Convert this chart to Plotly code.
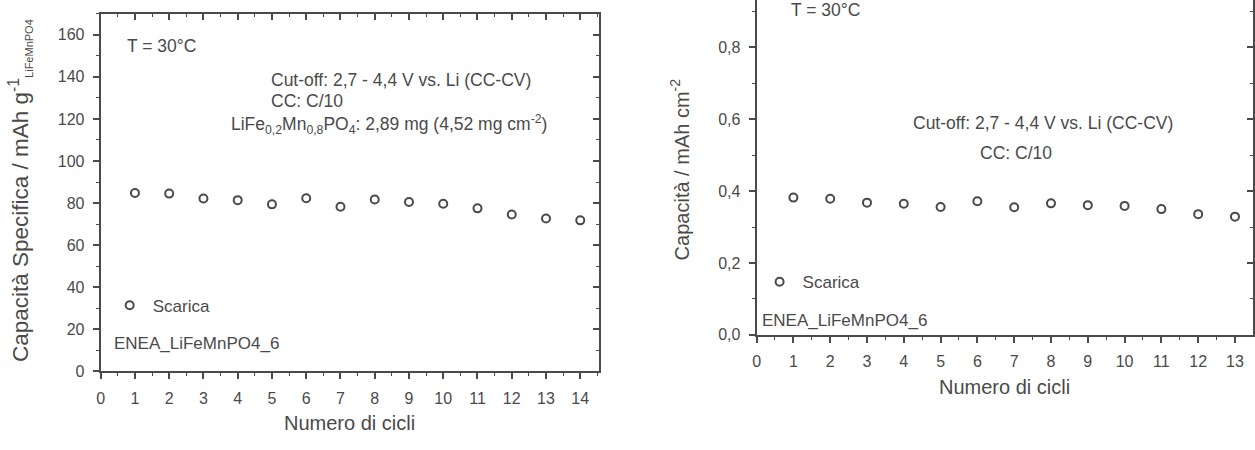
import plotly.graph_objects as go

# ---- data ----
cycles_left = [1, 2, 3, 4, 5, 6, 7, 8, 9, 10, 11, 12, 13, 14]
spec_capacity = [84.8, 84.5, 82.2, 81.4, 79.4, 82.3, 78.3, 81.7, 80.5, 79.7, 77.5, 74.6, 72.7, 71.8]

cycles_right = [1, 2, 3, 4, 5, 6, 7, 8, 9, 10, 11, 12, 13]
areal_capacity = [0.382, 0.379, 0.368, 0.365, 0.356, 0.372, 0.355, 0.366, 0.361, 0.359, 0.350, 0.336, 0.329]

series_name = "Scarica"
sample_name = "ENEA_LiFeMnPO4_6"
temp_text = "T = 30°C"
cutoff_text = "Cut-off: 2,7 - 4,4 V vs. Li (CC-CV)"
cc_text = "CC: C/10"
mass_text = "LiFe<sub>0,2</sub>Mn<sub>0,8</sub>PO<sub>4</sub>: 2,89 mg (4,52 mg cm<sup>-2</sup>)"
x_title = "Numero di cicli"
y_title_left = "Capacità Specifica / mAh g<sup>-1</sup><sub><span style='font-size:11px'>LiFeMnPO4</span></sub>"
y_title_right = "Capacità / mAh cm<sup>-2</sup>"

INK = "#4a4a4a"
FONT = "Liberation Sans, Arial, sans-serif"
W, H = 1255, 450

def px(x):
    return x / W

def py(y):
    return 1 - y / H

left_dom_x = [px(97), px(597)]
left_dom_y = [py(379), py(14)]
right_dom_x = [px(755), px(1253)]
right_dom_y = [py(341.7), 1.0]
left_xr, left_yr = [0, 14.55], [0, 170]
right_xr, right_yr = [0, 13.49], [0, 0.932]

fig = go.Figure()
marker = dict(symbol="circle-open", size=8, color=INK, line=dict(width=2, color=INK))
fig.add_trace(go.Scatter(x=cycles_left, y=spec_capacity, mode="markers", name=series_name,
                         marker=marker, xaxis="x", yaxis="y", legend="legend", showlegend=True))
fig.add_trace(go.Scatter(x=cycles_right, y=areal_capacity, mode="markers", name=series_name,
                         marker=marker, xaxis="x2", yaxis="y2", legend="legend2", showlegend=True))
# empty traces so the mirrored frame axes get drawn
fig.add_trace(go.Scatter(x=[], y=[], xaxis="x3", yaxis="y3", showlegend=False, hoverinfo="skip"))
fig.add_trace(go.Scatter(x=[], y=[], xaxis="x4", yaxis="y4", showlegend=False, hoverinfo="skip"))

tickfont = dict(family=FONT, size=16, color=INK)
common = dict(showline=True, linecolor=INK, linewidth=2, ticks="outside", ticklen=6,
              tickwidth=1.5, tickcolor=INK, tickfont=tickfont, showgrid=False,
              zeroline=False, ticklabelstandoff=5)
frame = dict(showline=True, linecolor=INK, linewidth=2, ticks="inside", ticklen=6,
             tickwidth=1.5, tickcolor=INK, showticklabels=False, showgrid=False,
             zeroline=False)
minor_out = dict(ticks="outside", ticklen=3, tickwidth=1.2, tickcolor=INK)
minor_in = dict(ticks="inside", ticklen=3, tickwidth=1.2, tickcolor=INK)

fig.update_layout(
    width=W, height=H, margin=dict(l=0, r=0, t=0, b=0),
    paper_bgcolor="white", plot_bgcolor="white",
    separators=",.", showlegend=True,
    font=dict(family=FONT, color=INK, size=17),
    xaxis=dict(domain=left_dom_x, anchor="y", range=left_xr, dtick=1, tick0=0,
               minor=dict(dtick=0.5, **minor_out), **common),
    yaxis=dict(domain=left_dom_y, anchor="x", range=left_yr, dtick=20, tick0=0,
               minor=dict(dtick=10, **minor_out), **common),
    xaxis3=dict(overlaying="x", anchor="y3", side="top", range=left_xr, dtick=1, tick0=0,
                minor=dict(dtick=0.5, **minor_in), **frame),
    yaxis3=dict(overlaying="y", anchor="x3", side="right", range=left_yr, dtick=20, tick0=0,
                minor=dict(dtick=10, **minor_in), **frame),
    xaxis2=dict(domain=right_dom_x, anchor="y2", range=right_xr, dtick=1, tick0=0,
                minor=dict(dtick=0.5, **minor_out), **common),
    yaxis2=dict(domain=right_dom_y, anchor="x2", range=right_yr, dtick=0.2, tick0=0,
                tickformat=".1f", minor=dict(dtick=0.1, **minor_out), **common),
    xaxis4=dict(overlaying="x2", anchor="y4", side="top", range=right_xr,
                showline=False, ticks="", showticklabels=False, showgrid=False, zeroline=False),
    yaxis4=dict(overlaying="y2", anchor="x4", side="right", range=right_yr, dtick=0.2, tick0=0,
                minor=dict(dtick=0.1, **minor_in), **frame),
    legend=dict(x=px(103), y=py(312), xanchor="left", yanchor="middle",
                bgcolor="rgba(0,0,0,0)", font=dict(size=17, color=INK, family=FONT),
                itemwidth=36, tracegroupgap=0),
    legend2=dict(x=px(755), y=py(288), xanchor="left", yanchor="middle",
                 bgcolor="rgba(0,0,0,0)", font=dict(size=17, color=INK, family=FONT),
                 itemwidth=36, tracegroupgap=0),
)

def note(text, x, y, size=17.5, xanchor="left", angle=0):
    fig.add_annotation(text=text, x=x, y=y, xref="paper", yref="paper",
                       xanchor=xanchor, yanchor="middle", showarrow=False,
                       textangle=angle, font=dict(family=FONT, size=size, color=INK))

# left panel texts
note(temp_text, px(121), py(47))
note(cutoff_text, px(266), py(82))
note(cc_text, px(266), py(103))
note(mass_text, px(226), py(127))
note(sample_name, px(108), py(350), size=17)
# right panel texts
note(temp_text, px(788), py(10))
note(cutoff_text, px(910), py(126))
note(cc_text, px(977), py(156))
note(sample_name, px(758), py(327), size=17)
# axis titles
note(x_title, px(347), py(432), size=20, xanchor="center")
note(x_title, px(1004), py(395), size=20, xanchor="center")
note(y_title_left, px(16), py(194), size=22.5, xanchor="center", angle=-90)
note(y_title_right, px(678), py(173), size=20, xanchor="center", angle=-90)

fig.write_html("out.html", config={"displayModeBar": False},
               post_script="document.body.style.margin='0';document.body.style.overflow='hidden';")
